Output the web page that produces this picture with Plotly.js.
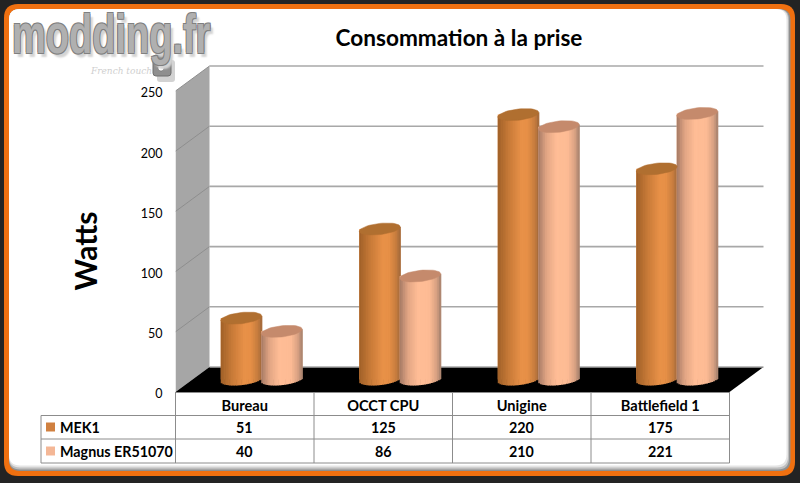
<!DOCTYPE html>
<html><head><meta charset="utf-8">
<script src="https://cdn.plot.ly/plotly-3.0.1.min.js"></script>
<style>html,body{margin:0;padding:0;background:#232323}#c{width:800px;height:483px}</style>
</head><body><div id="c"></div>
<script>
const categories = ["Bureau", "OCCT CPU", "Unigine", "Battlefield 1"];
const mek1 = [51, 125, 220, 175];
const magnus = [40, 86, 210, 221];
const seriesNames = ["MEK1", "Magnus ER51070"];
const tickValues = [0, 50, 100, 150, 200, 250];

const W = 800, H = 483;
// pixel frame of the pseudo-3D box
const frontLeft = 175.5, catPx = 138.5, zeroPx = 392, unitPx = 1.204;
const plotRight = 772, plotTop = 58, plotBottom = 444;
const depthX = 34 / catPx, depthY = 25 / unitPx;
const xMin = -0.5, xMax = categories.length - 0.5;
const cylW = 41 / catPx, capB = 5.6 / unitPx, capT = 2.2 / unitPx;
const STRIPS = 24;

const px = x => x / W, py = y => 1 - y / H;
const hex = c => c.map(v => Math.round(v));
function ramp(stops, u) {
  for (let i = 1; i < stops.length; i++) {
    if (u <= stops[i][0]) {
      const a = stops[i - 1], b = stops[i], f = (u - a[0]) / (b[0] - a[0]);
      const c = a[1].map((v, k) => v + (b[1][k] - v) * f);
      return 'rgb(' + hex(c).join(',') + ')';
    }
  }
  return 'rgb(' + stops[stops.length - 1][1].join(',') + ')';
}
const mekRamp = [[-1, [160, 96, 40]], [-0.45, [200, 122, 56]], [0.15, [232, 145, 72]], [0.45, [230, 143, 70]], [0.8, [198, 124, 62]], [1, [160, 104, 58]]];
const magRamp = [[-1, [165, 122, 100]], [-0.6, [225, 165, 132]], [-0.1, [255, 189, 150]], [0.45, [253, 187, 148]], [0.8, [215, 160, 130]], [1, [165, 128, 108]]];

const traces = [];
function cylinder(values, name, stops, capColor, shift) {
  // the solid bar carries the value; narrow strips on it shade it as a cylinder
  traces.push({
    type: 'bar', name: name, x: values.map((v, i) => i), y: values,
    base: values.map(() => depthY / 2), offset: depthX / 2 + shift, width: cylW,
    marker: {color: ramp(stops, 0.2), opacity: 1, line: {width: 0}}, hoverinfo: 'skip', showlegend: false
  });
  const sw = cylW / STRIPS;
  for (let s = 0; s < STRIPS; s++) {
    const u = -1 + (s + 0.5) * 2 / STRIPS;
    const base = values.map(() => depthY / 2 + capT * u - capB * Math.sqrt(1 - u * u));
    traces.push({
      type: 'bar', name: name, x: values.map((v, i) => i), y: values.map((v, i) => v + depthY / 2 + capT * u - base[i]),
      base: base, offset: depthX / 2 + shift + s * sw, width: sw + 0.6 / catPx,
      marker: {color: ramp(stops, u), opacity: 1, line: {width: 0}}, hoverinfo: 'skip', showlegend: false
    });
  }
  const cx = [], cy = [];
  values.forEach((v, i) => {
    for (let k = 0; k <= 48; k++) {
      const t = k / 48 * 2 * Math.PI;
      cx.push(i + depthX / 2 + shift + cylW / 2 + cylW / 2 * Math.cos(t));
      cy.push(v + depthY / 2 + capT * Math.cos(t) + capB * Math.sin(t));
    }
    cx.push(null); cy.push(null);
  });
  traces.push({type: 'scatter', mode: 'lines', x: cx, y: cy, fill: 'toself', fillcolor: capColor,
    line: {width: 0.5, color: capColor}, hoverinfo: 'skip', showlegend: false});
}
cylinder(mek1, seriesNames[0], mekRamp, '#b06f30', -cylW);
cylinder(magnus, seriesNames[1], magRamp, '#c58a6c', -0.004);

function roundRect(x0, y0, x1, y1, r) {
  return 'M' + px(x0 + r) + ',' + py(y0) + ' L' + px(x1 - r) + ',' + py(y0) +
    ' Q' + px(x1) + ',' + py(y0) + ' ' + px(x1) + ',' + py(y0 + r) +
    ' L' + px(x1) + ',' + py(y1 - r) + ' Q' + px(x1) + ',' + py(y1) + ' ' + px(x1 - r) + ',' + py(y1) +
    ' L' + px(x0 + r) + ',' + py(y1) + ' Q' + px(x0) + ',' + py(y1) + ' ' + px(x0) + ',' + py(y1 - r) +
    ' L' + px(x0) + ',' + py(y0 + r) + ' Q' + px(x0) + ',' + py(y0) + ' ' + px(x0 + r) + ',' + py(y0) + ' Z';
}
const frame = (x0, y0, x1, y1, r, c) => ({type: 'path', xref: 'paper', yref: 'paper', layer: 'below', path: roundRect(x0, y0, x1, y1, r), fillcolor: c, line: {width: 0}});
const poly = (pts, c) => ({type: 'path', xref: 'x', yref: 'y', layer: 'below', path: 'M' + pts.map(p => p.join(',')).join(' L') + ' Z', fillcolor: c, line: {width: 0}});
const seg = (x0, y0, x1, y1, c, w) => ({type: 'line', xref: 'x', yref: 'y', layer: 'below', x0, y0, x1, y1, line: {color: c, width: w}});
const pline = (x0, y0, x1, y1) => ({type: 'line', xref: 'paper', yref: 'paper', layer: 'above', x0: px(x0), y0: py(y0), x1: px(x1), y1: py(y1), line: {color: '#8c8c8c', width: 1}});

const topV = tickValues[tickValues.length - 1];
const shapes = [
  frame(4, 4, 795, 476, 14, '#f07010'),
  frame(9, 9, 790.5, 471, 11, '#8f8f8f'),
  frame(9, 9, 789, 469.5, 11, '#bdbdbd'),
  frame(9, 9, 788, 467.5, 11, '#e4e4e4'),
  frame(9, 9, 786.5, 465.5, 11, '#ffffff'),
  poly([[xMin, 0], [xMin + depthX, depthY], [xMin + depthX, topV + depthY], [xMin, topV]], '#a6a6a6'),
  poly([[xMin, 0], [xMax, 0], [xMax + depthX, depthY], [xMin + depthX, depthY]], '#000000')
];
tickValues.forEach(v => {
  if (v > 0) shapes.push(seg(xMin, v, xMin + depthX, v + depthY, '#8e8e8e', 1));
  shapes.push(seg(xMin + depthX, v + depthY, xMax + depthX, v + depthY, '#a8a8a8', 1.6));
});
// data table rules
const colEdges = categories.map((c, i) => frontLeft + catPx * i).concat(frontLeft + catPx * categories.length);
colEdges.forEach(x => shapes.push(pline(x, 392, x, 463)));
shapes.push(pline(41, 415.5, 41, 463));
[415.5, 439, 463].forEach(y => shapes.push(pline(41, y, colEdges[colEdges.length - 1], y)));
shapes.push(pline(frontLeft, 392.5, colEdges[colEdges.length - 1], 392.5));
// legend keys in the table
const keyColors = ['#d08040', '#f4b796'], rowY = [427, 451];
rowY.forEach((y, i) => shapes.push({type: 'rect', xref: 'paper', yref: 'paper', layer: 'above', x0: px(46), x1: px(55), y0: py(y - 4.5), y1: py(y + 4.5), fillcolor: keyColors[i], line: {width: 0}}));
// logo tail of the g
shapes.push({type: 'path', xref: 'paper', yref: 'paper', layer: 'below', path: roundRect(157, 60, 175, 82, 3), fillcolor: '#d2d2d2', line: {width: 0}});
shapes.push({type: 'path', xref: 'paper', yref: 'paper', layer: 'below', path: roundRect(153, 55, 171, 76, 3), fillcolor: '#8f8f8f', line: {color: '#6e6e6e', width: 1}});
shapes.push({type: 'circle', xref: 'paper', yref: 'paper', layer: 'above', x0: px(158), x1: px(164), y0: py(65), y1: py(71), fillcolor: '#ffffff', line: {width: 0.5, color: '#555'}});

const annotations = [];
const tableFont = {family: 'Lato, sans-serif', size: 14.3, color: '#000', weight: 700};
const headFont = {family: 'Lato, sans-serif', size: 14.6, color: '#000', weight: 700};
[mek1, magnus].forEach((vals, r) => {
  annotations.push({xref: 'paper', yref: 'paper', x: px(58), y: py(rowY[r]), xanchor: 'left', yanchor: 'middle', showarrow: false, text: seriesNames[r], font: tableFont});
  vals.forEach((v, i) => annotations.push({xref: 'x', yref: 'paper', x: i, y: py(rowY[r]), xanchor: 'center', yanchor: 'middle', showarrow: false, text: String(v), font: tableFont}));
});
annotations.push({xref: 'paper', yref: 'paper', x: px(111), y: py(38), xanchor: 'center', yanchor: 'middle', showarrow: false, text: 'modding.fr',
  font: {family: '"Liberation Sans", sans-serif', size: 38, color: '#b0b0b0', weight: 700, shadow: '-1px -1px 0 #808080, 1px 1px 0 #808080, 1px -1px 0 #808080, -1px 1px 0 #808080, 4px 3px 2px #d4d4d4'}});
annotations.push({xref: 'paper', yref: 'paper', x: px(121), y: py(71), xanchor: 'center', yanchor: 'middle', showarrow: false, text: 'French touch',
  font: {family: '"DejaVu Serif", serif', size: 9, color: '#cfcfcf', style: 'italic'}});

const layout = {
  width: W, height: H, margin: {l: 0, r: 0, t: 0, b: 0, pad: 0},
  paper_bgcolor: '#232323', plot_bgcolor: 'rgba(0,0,0,0)', showlegend: false, barmode: 'overlay',
  title: {text: 'Consommation à la prise', x: 459 / W, xanchor: 'center', y: py(38), yanchor: 'middle',
    font: {family: 'Lato, sans-serif', size: 22.6, color: '#000', weight: 700}},
  xaxis: {domain: [frontLeft / W, plotRight / W], range: [xMin, xMin + (plotRight - frontLeft) / catPx], type: 'linear',
    anchor: 'free', position: 1 - 393 / H,
    tickmode: 'array', tickvals: categories.map((c, i) => i), ticktext: categories, ticks: '', showgrid: false, zeroline: false, showline: false,
    ticklabelstandoff: 2, tickfont: headFont, fixedrange: true},
  yaxis: {domain: [1 - plotBottom / H, 1 - plotTop / H], range: [(zeroPx - plotBottom) / unitPx, (zeroPx - plotTop) / unitPx], type: 'linear',
    tickmode: 'array', tickvals: tickValues, ticks: '', showgrid: false, zeroline: false, showline: false,
    ticklabelstandoff: 12, ticklabelshift: 2, tickfont: {family: 'Lato, sans-serif', size: 12.5, color: '#000'},
    title: {text: 'Watts', standoff: 34, font: {family: 'Lato, sans-serif', size: 30, color: '#000', weight: 700}}, fixedrange: true},
  shapes, annotations
};
Plotly.newPlot('c', traces, layout, {displayModeBar: false, staticPlot: true}).then(() => {
  document.querySelectorAll('.annotation text').forEach(t => {
    if (t.textContent === 'modding.fr') {
      t.style.transformBox = 'fill-box';
      t.style.transformOrigin = '50% 70%';
      t.style.transform = 'scale(1,1.45)';
    }
  });
});
</script></body></html>
